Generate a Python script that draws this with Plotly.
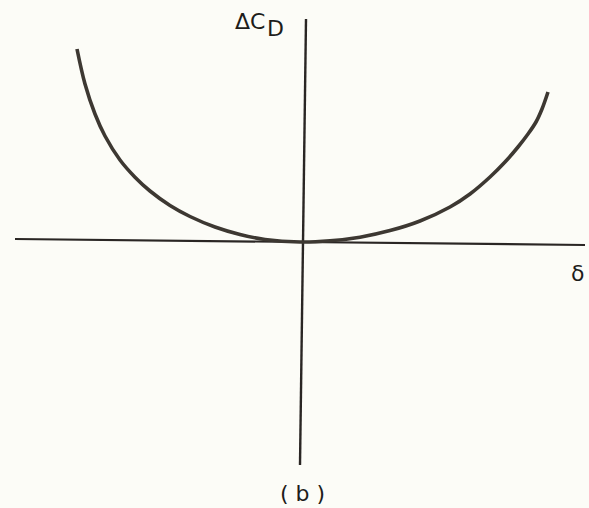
import plotly.graph_objects as go

# Curve: delta (horizontal) vs delta C_D (vertical), arbitrary sketch units
delta = [-223, -215, -205, -195, -180, -165, -150, -130, -110, -85, -60, -35, 0,
         30, 60, 90, 120, 150, 170, 190, 205, 218, 228, 236, 242, 248]
dCD   = [193, 158, 128, 106, 82, 64.8, 51, 36.5, 25.5, 15, 7.5, 2.5, 0,
         1.2, 4.8, 11.4, 21, 35, 48, 65, 80, 95, 108, 120, 133, 150]

# Axis lines (hand-drawn, slightly tilted)
h_axis_x = [-285, 285]
h_axis_y = [3, -3]
v_axis_x = [6, 0]
v_axis_y = [223, -223]

W, H = 589, 508
x_range = [-300, 289]
y_range = [-266, 242]

fig = go.Figure()
fig.add_trace(go.Scatter(x=h_axis_x, y=h_axis_y, mode="lines",
                         line=dict(color="#2a2624", width=2.2), hoverinfo="skip"))
fig.add_trace(go.Scatter(x=v_axis_x, y=v_axis_y, mode="lines",
                         line=dict(color="#2a2624", width=2.4), hoverinfo="skip"))
fig.add_trace(go.Scatter(x=delta, y=dCD, mode="lines",
                         line=dict(color="#3d3832", width=3.6, shape="spline", smoothing=1.0),
                         hoverinfo="skip"))

font = dict(family="DejaVu Sans", color="#1e1c1a")
fig.add_annotation(x=-50, y=221, xref="x", yref="y", text="ΔC",
                   showarrow=False, font=dict(size=22, **font), xanchor="center", yanchor="middle")
fig.add_annotation(x=-25, y=214, xref="x", yref="y", text="D",
                   showarrow=False, font=dict(size=22, **font), xanchor="center", yanchor="middle")
fig.add_annotation(x=277, y=-31, xref="x", yref="y", text="δ",
                   showarrow=False, font=dict(size=22, **font), xanchor="center", yanchor="middle")
fig.add_annotation(x=2, y=-251, xref="x", yref="y", text="( b )",
                   showarrow=False, font=dict(size=22, **font), xanchor="center", yanchor="middle")

fig.update_layout(
    width=W, height=H,
    margin=dict(l=0, r=0, t=0, b=0),
    paper_bgcolor="#fcfcf7", plot_bgcolor="#fcfcf7",
    showlegend=False,
    xaxis=dict(range=x_range, visible=False, fixedrange=True),
    yaxis=dict(range=y_range, visible=False, fixedrange=True),
)
fig.write_html("out.html", config={"displayModeBar": False},
               post_script="document.body.style.margin='0';document.body.style.overflow='hidden';")
